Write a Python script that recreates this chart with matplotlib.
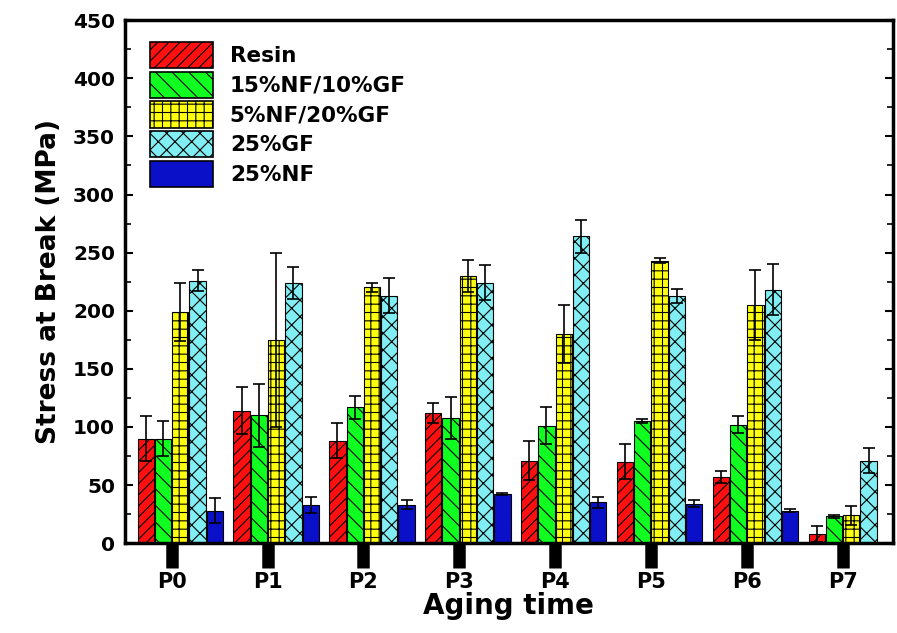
import numpy as np
import matplotlib.pyplot as plt
from matplotlib.patches import Patch

plt.rcParams['font.family'] = ['DejaVu Sans']
plt.rcParams['font.weight'] = 'bold'
plt.rcParams['hatch.linewidth'] = 0.8

# data
groups = ['P0', 'P1', 'P2', 'P3', 'P4', 'P5', 'P6', 'P7']
labels = ['Resin', '15%NF/10%GF', '5%NF/20%GF', '25%GF', '25%NF']

resin = [90, 114, 88, 112, 71, 70, 57, 8]
resin_err = [19, 20, 15, 9, 17, 15, 5, 7]
nf15 = [90, 110, 117, 108, 101, 105, 102, 23]
nf15_err = [15, 27, 10, 18, 16, 2, 7, 1]
nf5 = [199, 175, 220, 230, 180, 243, 205, 24]
nf5_err = [25, 75, 4, 14, 25, 2, 30, 8]
gf25 = [226, 224, 213, 224, 264, 213, 218, 71]
gf25_err = [9, 14, 15, 15, 14, 6, 22, 11]
nf25 = [28, 33, 33, 42, 35, 34, 28, 0]
nf25_err = [11, 7, 4, 1, 5, 3, 1, 0]

means = [resin, nf15, nf5, gf25, nf25]
errs = [resin_err, nf15_err, nf5_err, gf25_err, nf25_err]
colors = ['#ff1010', '#10ff20', '#ffff10', '#80eef2', '#0a10c8']
hatches = ['///', '\\\\', '++', 'xx', '']

fig = plt.figure(figsize=(8.97, 6.33), dpi=100)
ax = fig.add_axes([0.139, 0.142, 0.856, 0.826])

x = np.arange(len(groups))
w = 0.17
step = 0.18
for i in range(5):
    pos = x + (i - 1.5) * step
    ax.bar(pos, means[i], width=w, color=colors[i], hatch=hatches[i],
           edgecolor='black', linewidth=0.8, zorder=2)
    ax.errorbar(pos, means[i], yerr=errs[i], fmt='none', ecolor='black',
                elinewidth=1.2, capsize=4, capthick=1.2, zorder=3)

ax.set_xlim(-0.49, 7.52)
ax.set_ylim(0, 450)
ax.set_yticks(np.arange(0, 451, 50))
ax.set_yticks(np.arange(0, 451, 25), minor=True)
ax.set_xticks(x)
ax.set_xticklabels(groups, fontsize=15, fontweight='bold')
ax.tick_params(axis='y', which='major', direction='in', length=6, width=1.5,
               labelsize=14.5, right=True, pad=7)
ax.tick_params(axis='y', which='minor', direction='in', length=4, width=1.2,
               right=True)
ax.tick_params(axis='x', direction='out', length=18, width=9, pad=3)
for lab in ax.get_yticklabels():
    lab.set_fontweight('bold')
for s in ax.spines.values():
    s.set_linewidth(2.5)

ax.set_xlabel('Aging time', fontsize=20, fontweight='bold', labelpad=0)
ax.set_ylabel('Stress at Break (MPa)', fontsize=19, fontweight='bold', labelpad=8)

handles = [Patch(facecolor=colors[i], edgecolor='black', hatch=hatches[i],
                 linewidth=1.2, label=labels[i]) for i in range(5)]
leg = ax.legend(handles=handles, loc='upper left', frameon=False,
                bbox_to_anchor=(0.022, 0.975), borderaxespad=0,
                handlelength=2.9, handleheight=1.5,
                handletextpad=0.8, labelspacing=0.16,
                prop={'size': 15.5, 'weight': 'bold'})

fig.savefig('out.png', dpi=100)
